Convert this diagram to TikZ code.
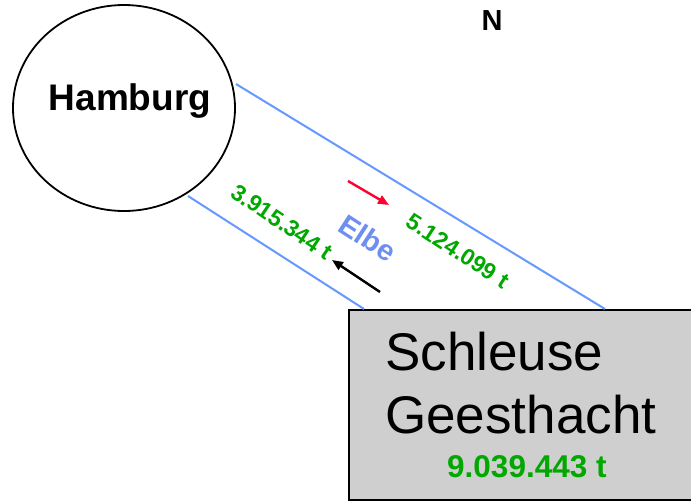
\documentclass[tikz,border=0pt]{standalone}
\usepackage{fontspec}
\setmainfont{Liberation Sans}
\usetikzlibrary{shapes.geometric,arrows.meta}
\definecolor{rivblue}{HTML}{6699FF}
\definecolor{elbeblue}{HTML}{6E8FF0}
\definecolor{tgreen}{HTML}{00A800}
\definecolor{boxgray}{HTML}{CFCFCF}
\definecolor{arrred}{HTML}{FF0033}
\tikzset{
  river/.style={draw=rivblue,line width=2pt},
  amount/.style={text=tgreen,font=\bfseries\fontsize{23}{25}\selectfont,inner sep=0pt},
  flow/.style={line width=2.4pt,-{Triangle[length=11pt,width=9pt]}},
}
\begin{document}
\begin{tikzpicture}[x=1pt,y=-1pt]
\clip (0,0) rectangle (691,501);
\fill[white] (0,0) rectangle (691,501);
% Hamburg
\node[ellipse,draw,line width=1.8pt,minimum width=222pt,minimum height=206pt,inner sep=0pt] (hh) at (124,108) {};
\node[font=\bfseries\fontsize{37}{40}\selectfont,inner sep=0pt] (hhtext) at (130,101) {Hamburg};
% North
\node[font=\bfseries\fontsize{29}{31}\selectfont,inner sep=0pt] (north) at (492,21) {N};
% Schleuse box
\node[draw,line width=2.4pt,fill=boxgray,anchor=north west,minimum width=360pt,minimum height=190pt,inner sep=0pt] (box) at (348,309) {};
\node[anchor=base west,font=\fontsize{53}{56}\selectfont,inner sep=0pt] (s1) at (385,370) {Schleuse};
\node[anchor=base west,font=\fontsize{53}{56}\selectfont,inner sep=0pt] (s2) at (385,433) {Geesthacht};
\node[anchor=base west,text=tgreen,font=\bfseries\fontsize{31.5}{33}\selectfont,inner sep=0pt] (s3) at (447,477) {9.039.443 t};
% river banks
\coordinate (u1) at (236,84);
\coordinate (u2) at (605,309);
\coordinate (l1) at (188,196);
\coordinate (l2) at (364,309);
\draw[river] (u1) -- (u2);
\draw[river] (l1) -- (l2);
% labels
\node[text=elbeblue,font=\bfseries\fontsize{29}{31}\selectfont,rotate=-33,inner sep=0pt] (elbe) at (368,238) {Elbe};
\node[amount,rotate=-34] (down) at (282,222) {3.915.344 t};
\node[amount,rotate=-33] (up) at (458,251) {5.124.099 t};
% arrows
\coordinate (r1) at (348,181);
\coordinate (r2) at (389,205);
\draw[flow,draw=arrred,fill=arrred] (r1) -- (r2);
\coordinate (b1) at (380,292);
\coordinate (b2) at (332,260);
\draw[flow,draw=black,fill=black] (b1) -- (b2);
\end{tikzpicture}
\end{document}
